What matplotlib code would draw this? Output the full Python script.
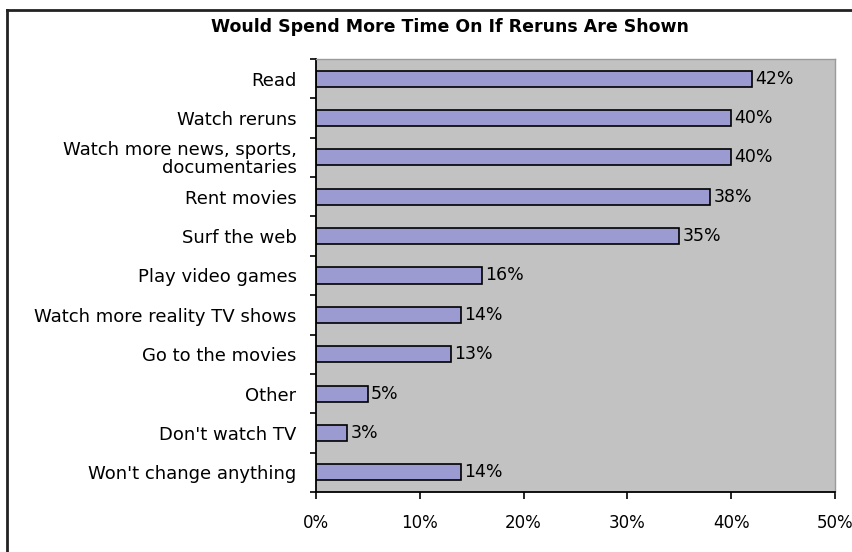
import matplotlib
matplotlib.use('Agg')
import matplotlib.pyplot as plt
from matplotlib.lines import Line2D
from matplotlib.ticker import FuncFormatter

categories = ["Read", "Watch reruns", "Watch more news, sports,\ndocumentaries",
              "Rent movies", "Surf the web", "Play video games",
              "Watch more reality TV shows", "Go to the movies",
              "Other", "Don't watch TV", "Won't change anything"]
values = [42, 40, 40, 38, 35, 16, 14, 13, 5, 3, 14]
x_ticks = [0, 10, 20, 30, 40, 50]
title = "Would Spend More Time On If Reruns Are Shown"

plt.rcParams['font.family'] = ['DejaVu Sans']

fig = plt.figure(figsize=(8.52, 5.52), dpi=100)
ax = fig.add_axes([316 / 852, 1 - 492 / 552, 519 / 852, 433 / 552])
ax.set_facecolor('#c2c2c2')

n = len(categories)
ypos = list(range(n))
ax.barh(ypos, values, height=0.41, color='#9b9bd2', edgecolor='black', linewidth=1.2)

# value labels
for y, v in zip(ypos, values):
    ax.text(v + 0.3, y, f"{v}%", va='center', ha='left', fontsize=12.5)

ax.set_xlim(0, 50)
ax.set_ylim(n - 0.5, -0.5)

ax.set_xticks(x_ticks)
ax.xaxis.set_major_formatter(FuncFormatter(lambda v, p: f"{v:.0f}%"))
ax.tick_params(axis='x', direction='out', length=5, width=1.2, pad=11, labelsize=12)

ax.set_yticks(ypos)
ax.set_yticklabels(categories, fontsize=13, linespacing=1.0)
ax.set_yticks([i - 0.5 for i in range(n + 1)], minor=True)
ax.tick_params(axis='y', which='major', length=0, pad=14)
ax.tick_params(axis='y', which='minor', direction='out', length=4, width=1.2)

for s in ['top', 'right']:
    ax.spines[s].set_color('#9a9a9a')
    ax.spines[s].set_linewidth(1)
for s in ['left', 'bottom']:
    ax.spines[s].set_color('black')
    ax.spines[s].set_linewidth(1.3)

fig.text(450 / 852, 1 - 27 / 552, title, ha='center', va='center', fontsize=12.5, fontweight='bold')

# outer frame (left and top)
fig.add_artist(Line2D([7 / 852, 7 / 852], [0, 1 - 10 / 552], transform=fig.transFigure,
                      color='#222222', linewidth=2))
fig.add_artist(Line2D([7 / 852, 1], [1 - 10 / 552, 1 - 10 / 552], transform=fig.transFigure,
                      color='#222222', linewidth=2))

fig.savefig('out.png', dpi=100)
